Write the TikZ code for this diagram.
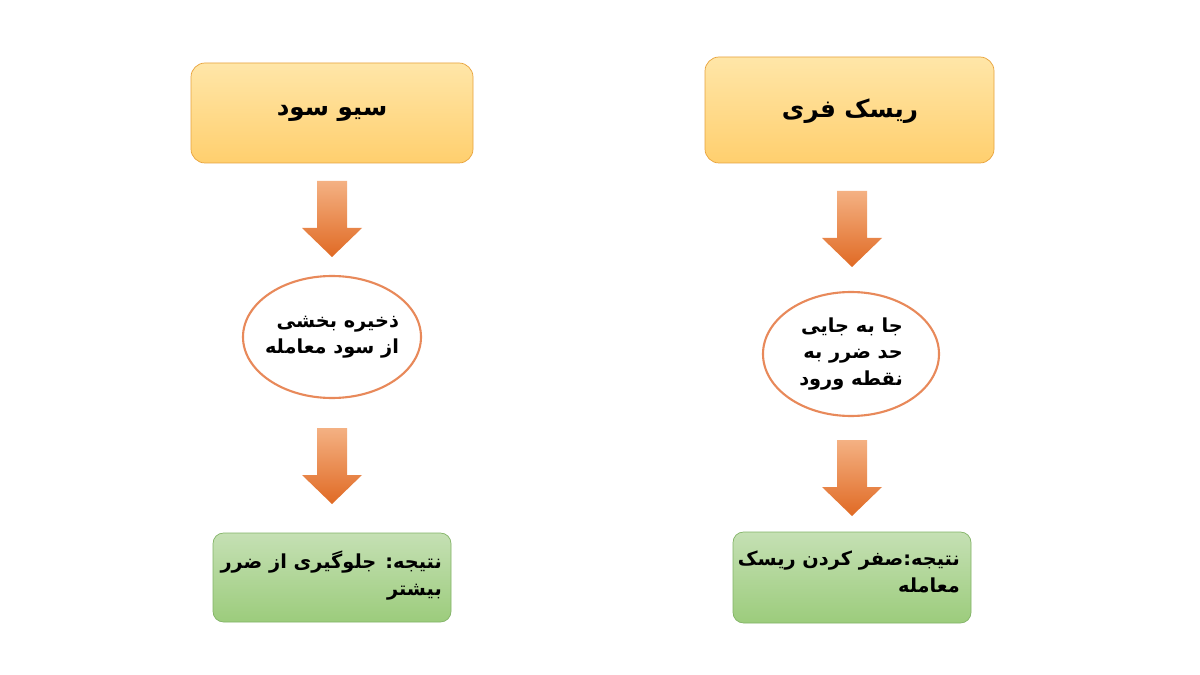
\documentclass[tikz,border=0pt]{standalone}
\usepackage{fontspec}
\newfontfamily\fa[Script=Arabic]{DejaVu Sans}
\TeXXeTstate=1
\definecolor{obord}{HTML}{E8A33C}
\definecolor{otop}{HTML}{FFE6A8}
\definecolor{obot}{HTML}{FFCF6E}
\definecolor{gbord}{HTML}{82B366}
\definecolor{gtop}{HTML}{C5E0B4}
\definecolor{gbot}{HTML}{9CCC7C}
\definecolor{atop}{HTML}{F4B183}
\definecolor{abot}{HTML}{E06A24}
\definecolor{ebord}{HTML}{E8895A}
\tikzset{
 topbox/.style={draw=obord,rounded corners=8pt,top color=otop,bottom color=obot},
 toptext/.style={font=\fa\bfseries\fontsize{14}{16}\selectfont},
 resbox/.style={draw=gbord,rounded corners=6pt,top color=gtop,bottom color=gbot},
 smalltext/.style={font=\fa\bfseries\fontsize{11}{15}\selectfont,align=right},
 ell/.style={draw=ebord,line width=1.2pt,fill=white},
 downarrow/.style={top color=atop,bottom color=abot,draw=none}
}
\newcommand{\darrow}[3]{% center x, top y, bottom y
 \path[downarrow] (#1-15,#2) -- (#1+15,#2) -- (#1+15,#2+47) -- (#1+30,#2+47) -- (#1,#3) -- (#1-30,#2+47) -- (#1-15,#2+47) -- cycle;}
\begin{document}
\begin{tikzpicture}[x=0.02cm,y=-0.02cm]
\useasboundingbox (0,0) rectangle (1200,675);
\fill[white] (0,0) rectangle (1200,675);
% left
\draw[topbox] (191,63) rectangle (473,163);
\node[toptext] (lt) at (332,113) {\beginR سیو سود\endR};
\darrow{332}{181}{257}
\draw[ell] (332,337) ellipse [x radius=89,y radius=61];
\node[smalltext] (le) at (332,337) {\beginR ذخیره بخشی\endR\\\beginR از سود معامله\endR};
\darrow{332}{428}{504}
\draw[resbox] (213,533) rectangle (451,622);
\node[smalltext,anchor=north east] (lr) at (448,545) {\beginR نتیجه: جلوگیری از ضرر\endR\\\beginR بیشتر\endR};
% right
\draw[topbox] (705,57) rectangle (994,163);
\node[toptext] (rt) at (850,111) {\beginR ریسک فری\endR};
\darrow{852}{191}{267}
\draw[ell] (851,354) ellipse [x radius=88,y radius=62];
\node[smalltext] (re) at (851,354) {\beginR جا به جایی\endR\\\beginR حد ضرر به\endR\\\beginR نقطه ورود\endR};
\darrow{852}{440}{516}
\draw[resbox] (733,532) rectangle (971,623);
\node[smalltext,anchor=north east] (rr) at (966,545) {\beginR نتیجه:صفر کردن ریسک\endR\\\beginR معامله\endR};
\end{tikzpicture}
\end{document}
